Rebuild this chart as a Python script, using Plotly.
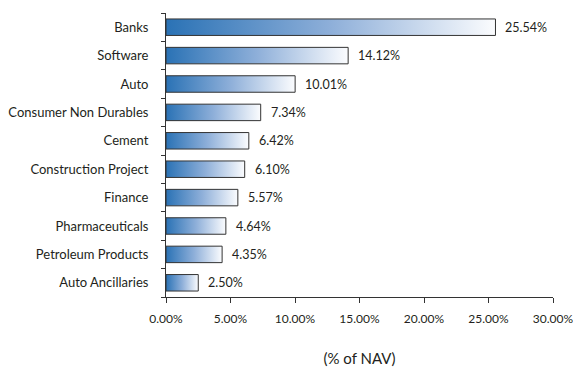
import plotly.graph_objects as go

# Sector allocation (% of NAV)
sectors = ["Banks", "Software", "Auto", "Consumer Non Durables", "Cement",
           "Construction Project", "Finance", "Pharmaceuticals",
           "Petroleum Products", "Auto Ancillaries"]
weights = [25.54, 14.12, 10.01, 7.34, 6.42, 6.10, 5.57, 4.64, 4.35, 2.50]
x_ticks = [0, 5, 10, 15, 20, 25, 30]

FONT = "Lato, sans-serif"
TEXT = "#231f20"
half = 0.29  # half bar thickness in category units

fig = go.Figure()
for i, (name, v) in enumerate(zip(sectors, weights)):
    fig.add_trace(go.Scatter(
        x=[0, v, v, 0, 0],
        y=[i - half, i - half, i + half, i + half, i - half],
        mode="lines",
        fill="toself",
        fillgradient=dict(type="horizontal",
                          colorscale=[[0, "#2a72b5"], [0.5, "#8eafd9"], [1, "#fbfcfe"]]),
        line=dict(color="#333333", width=1),
        hoverinfo="skip",
        showlegend=False,
        name=name,
    ))
    fig.add_annotation(x=v, y=i, text=f"{v:.2f}%", showarrow=False,
                       xanchor="left", xshift=8,
                       font=dict(family=FONT, size=12.5, color=TEXT))

fig.update_layout(
    width=573, height=367,
    margin=dict(l=166, r=20, t=13, b=70),
    paper_bgcolor="white", plot_bgcolor="white",
    font=dict(family=FONT, size=13, color=TEXT),
    xaxis=dict(range=[0, 30], tickvals=x_ticks,
               ticktext=[f"{t:.2f}%" for t in x_ticks],
               tickfont=dict(family=FONT, size=12, color=TEXT),
               automargin=False, ticklabeloverflow="allow",
               ticklabelstandoff=6,
               showgrid=False, zeroline=False, showline=True,
               linecolor="#333333", linewidth=1,
               ticks="outside", ticklen=5, tickcolor="#333333",
               title=dict(text="(% of NAV)", standoff=29,
                          font=dict(family=FONT, size=15, color=TEXT))),
    yaxis=dict(range=[9.5, -0.5], tickvals=list(range(len(sectors))),
               ticktext=sectors, showgrid=False, zeroline=False,
               automargin=False,
               showline=True, linecolor="#333333", linewidth=1,
               ticks="", ticklabelstandoff=14,
               minor=dict(tickvals=[k - 0.5 for k in range(len(sectors) + 1)],
                          ticks="outside", ticklen=4, tickcolor="#333333",
                          showgrid=False)),
)

fig.write_html("out.html")
